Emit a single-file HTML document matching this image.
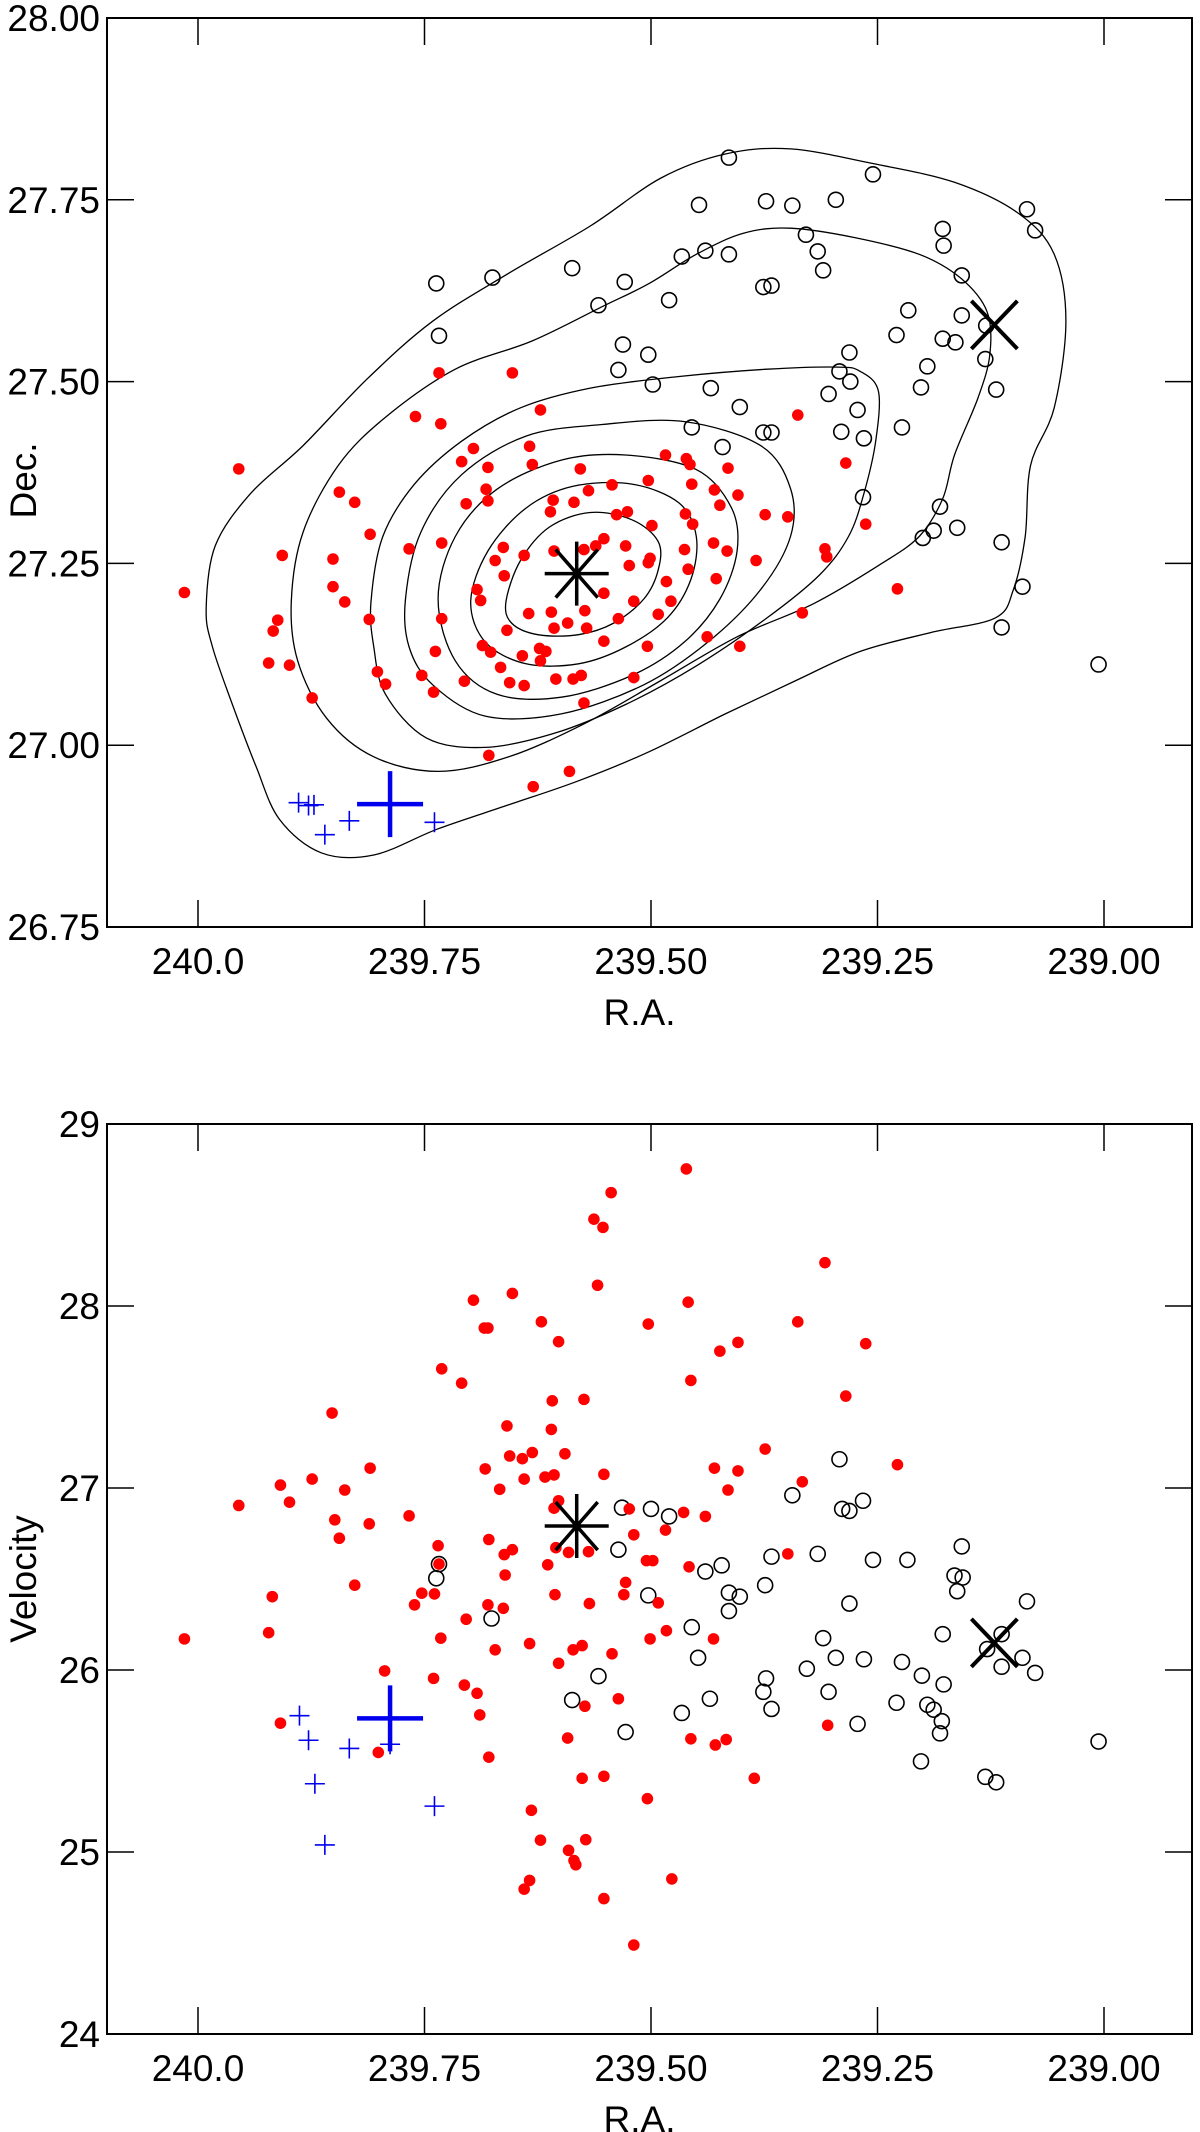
<!DOCTYPE html>
<html><head><meta charset="utf-8">
<style>
html,body{margin:0;padding:0;background:#fff;}
svg{display:block;font-family:"Liberation Sans",Arial,sans-serif;}
</style></head>
<body>
<svg id="fig" width="1200" height="2132" viewBox="0 0 1200 2132" xmlns="http://www.w3.org/2000/svg"></svg>
<script>
// ---------- DATA ----------
const raTicks=[240.0,239.75,239.5,239.25,239.0];
const raTickLabels=["240.0","239.75","239.50","239.25","239.00"];
const decTicks=[26.75,27.0,27.25,27.5,27.75,28.0];
const decTickLabels=["26.75","27.00","27.25","27.50","27.75","28.00"];
const velTicks=[24,25,26,27,28,29];
const velTickLabels=["24","25","26","27","28","29"];

const redTopRA=[239.955,240.015,239.907,239.912,239.917,239.922,239.899,239.874,239.851,239.851,239.838,239.844,239.827,239.810,239.811,239.802,239.793,239.767,239.760,239.734,239.732,239.731,239.731,239.738,239.740,239.753,239.706,239.709,239.696,239.704,239.680,239.682,239.680,239.692,239.688,239.686,239.677,239.679,239.663,239.672,239.662,239.659,239.666,239.653,239.656,239.640,239.642,239.640,239.634,239.631,239.635,239.622,239.623,239.616,239.622,239.611,239.608,239.607,239.610,239.607,239.605,239.592,239.586,239.578,239.585,239.569,239.577,239.574,239.590,239.630,239.573,239.571,239.574,239.561,239.552,239.552,239.552,239.543,239.538,239.526,239.528,239.524,239.536,239.519,239.519,239.503,239.499,239.501,239.503,239.492,239.504,239.484,239.483,239.478,239.463,239.462,239.459,239.461,239.457,239.455,239.454,239.438,239.428,239.431,239.430,239.424,239.415,239.416,239.404,239.402,239.384,239.374,239.349,239.338,239.333,239.308,239.306,239.285,239.263,239.228];
const redTopDec=[27.380,27.210,27.261,27.172,27.157,27.113,27.110,27.065,27.256,27.218,27.197,27.348,27.334,27.290,27.173,27.101,27.084,27.270,27.452,27.512,27.442,27.278,27.174,27.129,27.073,27.096,27.088,27.390,27.408,27.332,27.382,27.352,27.336,27.214,27.199,27.137,27.128,26.986,27.272,27.254,27.233,27.158,27.107,27.512,27.086,27.082,27.123,27.261,27.411,27.386,27.181,27.116,27.133,27.129,27.461,27.321,27.337,27.267,27.183,27.161,27.091,27.168,27.091,27.380,27.334,27.350,27.096,27.058,26.964,26.943,27.185,27.161,27.269,27.274,27.284,27.209,27.143,27.358,27.317,27.321,27.274,27.247,27.174,27.093,27.198,27.364,27.302,27.257,27.251,27.180,27.136,27.399,27.225,27.198,27.269,27.318,27.242,27.394,27.386,27.359,27.304,27.149,27.229,27.278,27.351,27.330,27.381,27.267,27.344,27.136,27.254,27.317,27.314,27.454,27.182,27.270,27.259,27.388,27.304,27.215];

const openTopRA=[239.737,239.675,239.734,239.587,239.558,239.529,239.480,239.531,239.536,239.503,239.498,239.466,239.447,239.440,239.414,239.414,239.434,239.402,239.455,239.421,239.373,239.344,239.329,239.316,239.310,239.376,239.367,239.376,239.367,239.296,239.255,239.304,239.292,239.281,239.280,239.272,239.290,239.265,239.266,239.229,239.216,239.195,239.202,239.223,239.178,239.177,239.178,239.164,239.157,239.157,239.181,239.188,239.200,239.162,239.085,239.076,239.130,239.131,239.119,239.113,239.090,239.113,239.006];
const openTopDec=[27.635,27.643,27.563,27.656,27.605,27.637,27.612,27.551,27.516,27.537,27.496,27.672,27.743,27.680,27.808,27.675,27.491,27.465,27.437,27.410,27.748,27.742,27.702,27.679,27.653,27.630,27.632,27.430,27.430,27.750,27.785,27.483,27.514,27.540,27.500,27.461,27.431,27.422,27.341,27.564,27.598,27.521,27.492,27.437,27.710,27.687,27.559,27.554,27.591,27.646,27.328,27.295,27.285,27.299,27.737,27.708,27.577,27.531,27.489,27.279,27.218,27.162,27.111];

const blueTopRA=[239.889,239.878,239.872,239.860,239.833,239.739];
const blueTopDec=[26.921,26.917,26.918,26.877,26.896,26.894];
const bigPlusTop=[239.788,26.919];
const asteriskTop=[239.582,27.236];
const crossTop=[239.121,27.578];

const redBotRA=[239.461,239.544,239.563,239.553,239.559,239.653,239.696,239.684,239.680,239.621,239.602,239.503,239.459,239.424,239.404,239.338,239.308,239.263,239.285,239.456,239.731,239.709,239.852,239.609,239.574,239.610,239.659,239.656,239.642,239.631,239.595,239.667,239.640,239.617,239.607,239.552,239.683,239.430,239.415,239.404,239.374,239.333,239.228,239.349,239.874,239.909,239.899,239.955,239.838,239.849,239.844,239.810,239.811,239.767,239.735,239.734,239.739,239.753,239.761,239.827,239.918,239.922,240.015,239.909,239.794,239.801,239.740,239.732,239.704,239.706,239.692,239.689,239.679,239.672,239.680,239.663,239.679,239.662,239.661,239.653,239.634,239.614,239.606,239.602,239.586,239.576,239.568,239.573,239.592,239.576,239.552,239.543,239.536,239.528,239.530,239.524,239.519,239.505,239.498,239.492,239.501,239.483,239.484,239.464,239.458,239.440,239.431,239.417,239.429,239.456,239.504,239.386,239.305,239.632,239.622,239.591,239.585,239.583,239.572,239.552,239.519,239.477,239.634,239.640,239.605,239.591,239.569,239.602,239.607];
const redBotVel=[28.753,28.623,28.477,28.432,28.114,28.069,28.032,27.879,27.879,27.913,27.804,27.901,28.021,27.752,27.800,27.913,28.238,27.793,27.505,27.591,27.655,27.576,27.412,27.479,27.487,27.322,27.341,27.176,27.161,27.195,27.188,26.993,27.049,27.060,27.072,27.075,27.105,27.109,26.989,27.094,27.214,27.034,27.128,26.638,27.049,27.016,26.922,26.904,26.989,26.825,26.724,27.109,26.803,26.847,26.683,26.582,26.418,26.422,26.358,26.466,26.403,26.205,26.171,25.708,25.995,25.547,25.954,26.175,26.279,25.917,25.872,25.753,25.521,26.111,26.358,26.339,26.717,26.634,26.522,26.661,26.145,26.578,26.414,26.037,26.111,26.134,26.365,25.801,25.626,25.405,25.416,26.089,25.842,26.481,26.414,26.885,26.743,26.601,26.601,26.369,26.171,26.216,26.769,26.866,26.567,26.844,26.171,25.618,25.588,25.622,25.293,25.405,25.696,25.229,25.065,25.009,24.953,24.930,25.068,24.744,24.489,24.852,24.844,24.796,26.672,26.646,26.650,26.930,26.889];

const openBotRA=[239.532,239.500,239.480,239.536,239.503,239.440,239.422,239.414,239.402,239.414,239.455,239.448,239.466,239.435,239.558,239.587,239.528,239.676,239.737,239.734,239.374,239.367,239.344,239.316,239.292,239.289,239.281,239.266,239.255,239.217,239.310,239.281,239.296,239.328,239.265,239.304,239.376,239.367,239.373,239.272,239.229,239.223,239.201,239.178,239.195,239.188,239.179,239.181,239.177,239.202,239.165,239.156,239.162,239.157,239.085,239.090,239.113,239.076,239.113,239.129,239.131,239.119,239.006];
const openBotVel=[26.892,26.885,26.844,26.661,26.410,26.541,26.575,26.425,26.403,26.324,26.235,26.067,25.764,25.842,25.966,25.835,25.659,26.283,26.504,26.582,26.466,26.623,26.960,26.638,27.158,26.885,26.874,26.930,26.605,26.605,26.175,26.365,26.067,26.007,26.059,25.880,25.880,25.786,25.954,25.704,25.820,26.044,25.969,26.197,25.809,25.782,25.719,25.652,25.921,25.498,26.519,26.508,26.433,26.679,26.377,26.067,26.018,25.984,26.197,26.115,25.413,25.383,25.607];

const blueBotRA=[239.888,239.878,239.871,239.860,239.833,239.739,239.788];
const blueBotVel=[25.749,25.614,25.375,25.039,25.569,25.252,25.592];
const bigPlusBot=[239.788,25.734];
const asteriskBot=[239.582,26.791];
const crossBot=[239.121,26.149];

// density contours (ra, dec), innermost to outermost
const contour1=[[239.660,27.198],[239.644,27.254],[239.612,27.300],[239.567,27.320],[239.521,27.310],[239.492,27.280],[239.492,27.241],[239.508,27.201],[239.541,27.168],[239.580,27.152],[239.625,27.152],[239.654,27.168]];
const contour2=[[239.699,27.198],[239.680,27.267],[239.638,27.326],[239.586,27.356],[239.521,27.359],[239.469,27.333],[239.450,27.287],[239.456,27.228],[239.482,27.175],[239.528,27.135],[239.580,27.112],[239.638,27.112],[239.683,27.142]];
const contour3=[[239.735,27.201],[239.716,27.287],[239.670,27.352],[239.599,27.392],[239.528,27.399],[239.450,27.379],[239.411,27.326],[239.405,27.267],[239.424,27.201],[239.463,27.142],[239.521,27.096],[239.599,27.066],[239.670,27.070],[239.716,27.116]];
const contour4=[[239.771,27.201],[239.754,27.293],[239.709,27.372],[239.638,27.425],[239.554,27.441],[239.463,27.445],[239.379,27.412],[239.346,27.353],[239.346,27.287],[239.379,27.214],[239.437,27.142],[239.508,27.083],[239.599,27.043],[239.683,27.040],[239.741,27.083],[239.767,27.135]];
const contour5=[[239.809,27.198],[239.796,27.287],[239.761,27.359],[239.709,27.418],[239.644,27.464],[239.567,27.491],[239.469,27.507],[239.372,27.517],[239.294,27.520],[239.269,27.514],[239.249,27.487],[239.252,27.418],[239.265,27.346],[239.282,27.287],[239.314,27.234],[239.372,27.175],[239.450,27.109],[239.528,27.056],[239.605,27.017],[239.683,26.997],[239.748,27.010],[239.793,27.070],[239.806,27.135]];
const contour6=[[239.897,27.198],[239.884,27.293],[239.845,27.385],[239.793,27.451],[239.716,27.517],[239.631,27.556],[239.554,27.603],[239.502,27.635],[239.450,27.675],[239.398,27.704],[239.346,27.711],[239.275,27.698],[239.204,27.675],[239.158,27.642],[239.129,27.596],[239.126,27.537],[239.139,27.478],[239.165,27.399],[239.178,27.339],[239.204,27.287],[239.249,27.247],[239.320,27.195],[239.405,27.149],[239.489,27.089],[239.573,27.030],[239.657,26.984],[239.735,26.964],[239.806,26.984],[239.858,27.037],[239.890,27.116]];
const contour7=[[239.991,27.188],[239.981,27.274],[239.942,27.346],[239.884,27.412],[239.813,27.504],[239.741,27.583],[239.657,27.649],[239.567,27.714],[239.489,27.780],[239.418,27.813],[239.346,27.820],[239.256,27.800],[239.165,27.774],[239.094,27.731],[239.055,27.675],[239.042,27.583],[239.055,27.464],[239.081,27.385],[239.087,27.287],[239.100,27.214],[239.120,27.175],[239.191,27.155],[239.269,27.129],[239.340,27.089],[239.418,27.043],[239.502,26.991],[239.580,26.951],[239.657,26.918],[239.735,26.885],[239.806,26.849],[239.864,26.852],[239.910,26.898],[239.936,26.971],[239.962,27.056],[239.984,27.135]];
const contours=[contour1,contour2,contour3,contour4,contour5,contour6,contour7];

// ---------- DRAWING ----------
const NS="http://www.w3.org/2000/svg";
const svg=document.getElementById('fig');
function mk(tag,attrs,parent){const e=document.createElementNS(NS,tag);for(const k in attrs)e.setAttribute(k,attrs[k]);(parent||svg).appendChild(e);return e;}
const L=107,R=1192;
function xScale(ra){return 198+(240-ra)*906;}
const topP={T:18,B:927,ymin:26.75,ymax:28.0};
const botP={T:1124,B:2034,ymin:24,ymax:29};
function yS(p,v){return p.B-(v-p.ymin)/(p.ymax-p.ymin)*(p.B-p.T);}

function axes(p,yTicks,yLabels,yTitle,gname){
  const g=mk('g',{});
  
  
  const fr=mk('rect',{x:L,y:p.T,width:R-L,height:p.B-p.T,fill:'none',stroke:'#000','stroke-width':2},g);
  
  
  raTicks.forEach((t,i)=>{
    const x=xScale(t);
    mk('line',{x1:x,y1:p.B,x2:x,y2:p.B-27,stroke:'#000','stroke-width':1.5},g);
    mk('line',{x1:x,y1:p.T,x2:x,y2:p.T+27,stroke:'#000','stroke-width':1.5},g);
    const tx=mk('text',{x:x,y:p.B+47,'font-size':37,'text-anchor':'middle',fill:'#000'},g);
    tx.textContent=raTickLabels[i];
    
    
  });
  yTicks.forEach((t,i)=>{
    const y=yS(p,t);
    mk('line',{x1:L,y1:y,x2:L+27,y2:y,stroke:'#000','stroke-width':1.5},g);
    mk('line',{x1:R,y1:y,x2:R-27,y2:y,stroke:'#000','stroke-width':1.5},g);
    const tx=mk('text',{x:100,y:y+13,'font-size':37,'text-anchor':'end',fill:'#000'},g);
    tx.textContent=yLabels[i];
    
    
  });
  const xt=mk('text',{x:(L+R)/2-10,y:p.B+98,'font-size':37,'text-anchor':'middle',fill:'#000'},g);
  xt.textContent='R.A.';
  
  
  const yc=(p.T+p.B)/2+ (gname==='top'?8:0);
  const yt=mk('text',{x:36,y:yc,'font-size':37,'text-anchor':'middle',fill:'#000',transform:'rotate(-90 36 '+yc+')'},g);
  yt.textContent=yTitle;
  
  
}

function smoothPath(pts){
  const n=pts.length;let d='M'+pts[0][0]+','+pts[0][1];
  for(let i=0;i<n;i++){
    const p0=pts[(i-1+n)%n],p1=pts[i],p2=pts[(i+1)%n],p3=pts[(i+2)%n];
    const c1x=p1[0]+(p2[0]-p0[0])/6,c1y=p1[1]+(p2[1]-p0[1])/6;
    const c2x=p2[0]-(p3[0]-p1[0])/6,c2y=p2[1]-(p3[1]-p1[1])/6;
    d+=' C'+c1x.toFixed(1)+','+c1y.toFixed(1)+' '+c2x.toFixed(1)+','+c2y.toFixed(1)+' '+p2[0].toFixed(1)+','+p2[1].toFixed(1);
  }
  return d+'Z';
}

function markers(p,redX,redY,openX,openY,blueX,blueY,big,ast,cross,gname){
  const g=mk('g',{});
  
  
  openX.forEach((v,i)=>{
    const c=mk('circle',{cx:xScale(v),cy:yS(p,openY[i]),r:7.5,fill:'none',stroke:'#000','stroke-width':1.6},g);
    
    
  });
  redX.forEach((v,i)=>{
    const c=mk('circle',{cx:xScale(v),cy:yS(p,redY[i]),r:5.8,fill:'#ff0000'},g);
    
    
  });
  blueX.forEach((v,i)=>{
    const x=xScale(v),y=yS(p,blueY[i]);
    const pl=mk('path',{d:'M'+(x-10)+','+y+'H'+(x+10)+'M'+x+','+(y-10)+'V'+(y+10),stroke:'#0000ee','stroke-width':1.6,fill:'none'},g);
    
    
  });
  let x=xScale(big[0]),y=yS(p,big[1]);
  const bp=mk('path',{d:'M'+(x-33)+','+y+'H'+(x+33)+'M'+x+','+(y-33)+'V'+(y+33),stroke:'#0000ee','stroke-width':4.5,fill:'none'},g);
  
  
  x=xScale(ast[0]);y=yS(p,ast[1]);
  const a=mk('path',{d:'M'+(x-32)+','+y+'H'+(x+32)+'M'+x+','+(y-32)+'V'+(y+32)+'M'+(x-21)+','+(y-24)+'L'+(x+21)+','+(y+24)+'M'+(x+21)+','+(y-24)+'L'+(x-21)+','+(y+24),stroke:'#000','stroke-width':3.5,fill:'none'},g);
  
  
  x=xScale(cross[0]);y=yS(p,cross[1]);
  const cx=mk('path',{d:'M'+(x-23)+','+(y-24)+'L'+(x+23)+','+(y+24)+'M'+(x+23)+','+(y-24)+'L'+(x-23)+','+(y+24),stroke:'#000','stroke-width':4,fill:'none'},g);
  
  
}

// top panel
const cg=mk('g',{});


contours.forEach(c=>{
  const pts=c.map(q=>[xScale(q[0]),yS(topP,q[1])]);
  const pa=mk('path',{d:smoothPath(pts),fill:'none',stroke:'#000','stroke-width':1.3},cg);
  
  
});
axes(topP,decTicks,decTickLabels,'Dec.','top');
markers(topP,redTopRA,redTopDec,openTopRA,openTopDec,blueTopRA,blueTopDec,bigPlusTop,asteriskTop,crossTop,'top');

// bottom panel
axes(botP,velTicks,velTickLabels,'Velocity','bottom');
markers(botP,redBotRA,redBotVel,openBotRA,openBotVel,blueBotRA,blueBotVel,bigPlusBot,asteriskBot,crossBot,'bottom');
</script>
</body></html>
